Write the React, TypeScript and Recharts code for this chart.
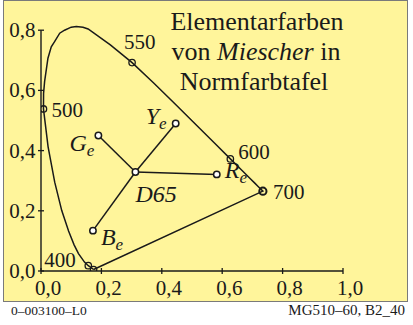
import React from 'react';
import { ScatterChart, Scatter, XAxis, YAxis, ReferenceLine } from 'recharts';

// spectral locus (CIE 1931 x,y), read along the curve from violet end over green to red
const spectralX = [
  0.1741, 0.1566, 0.144, 0.1241, 0.1096, 0.0913, 0.0687, 0.0454, 0.0235, 0.0082, 0.0085, 0.012,
  0.023, 0.034, 0.045, 0.062, 0.078, 0.1, 0.117, 0.139, 0.156, 0.2296, 0.3016, 0.3731, 0.4441,
  0.5125, 0.5752, 0.627, 0.6658, 0.6915, 0.7079, 0.719, 0.7347, 0.1741,
];
const spectralY = [
  0.005, 0.0177, 0.0297, 0.0578, 0.0868, 0.1327, 0.2007, 0.295, 0.4127, 0.5384, 0.59, 0.63,
  0.707, 0.745, 0.762, 0.79, 0.8, 0.81, 0.812, 0.81, 0.804, 0.751, 0.6923, 0.6245, 0.5547,
  0.4866, 0.4242, 0.3725, 0.334, 0.3083, 0.292, 0.2809, 0.2653, 0.005,
];

// wavelength marks on the locus
const markLabels = ['', '400', '500', '550', '600', '700'];
const markX = [0.1741, 0.1566, 0.0082, 0.3016, 0.627, 0.7347];
const markY = [0.005, 0.0177, 0.5384, 0.6923, 0.3725, 0.2653];

// elementary colours after Miescher and D65
const primaryNames = ['G', 'Y', 'R', 'B'];
const primaryX = [0.19, 0.446, 0.582, 0.172];
const primaryY = [0.45, 0.49, 0.321, 0.134];
const whiteX = 0.3127;
const whiteY = 0.329;

const xTicks = [0, 0.2, 0.4, 0.6, 0.8, 1.0];
const xTickLabels = ['0,0', '0,2', '0,4', '0,6', '0,8', '1,0'];
const yTicks = [0, 0.2, 0.4, 0.6, 0.8];
const yTickLabels = ['0,0', '0,2', '0,4', '0,6', '0,8'];

const titleLines = ['Elementarfarben', 'von ', 'Miescher', ' in', 'Normfarbtafel'];

const locus = spectralX.map((x, i) => ({ x, y: spectralY[i] }));
const marks = markX.map((x, i) => ({ x, y: markY[i], label: markLabels[i] }));
const white = { x: whiteX, y: whiteY, name: 'D65' };
const primaries = primaryNames.map((name, i) => ({ x: primaryX[i], y: primaryY[i], name }));

const SERIF = '"Liberation Serif", "Times New Roman", serif';
const INK = '#1a1a1a';

const markOffset: Record<string, { dx: number; dy: number }> = {
  '400': { dx: -44, dy: 1 },
  '500': { dx: 8, dy: 8 },
  '550': { dx: -8, dy: -14 },
  '600': { dx: 8, dy: 0 },
  '700': { dx: 10, dy: 8 },
};

const nameOffset: Record<string, { dx: number; dy: number }> = {
  G: { dx: -29, dy: 15 },
  Y: { dx: -30, dy: 0 },
  R: { dx: 8, dy: 4 },
  B: { dx: 8, dy: 14 },
  D65: { dx: 0, dy: 30 },
};

const XTick = (props: any) => {
  const { x, y, index } = props;
  return (
    <g>
      <line x1={x} x2={x} y1={y - 3} y2={y + 3} stroke={INK} strokeWidth={1.3} />
      <text x={x - 6} y={y + 24} fontFamily={SERIF} fontSize={21} fill={INK}>
        {xTickLabels[index]}
      </text>
    </g>
  );
};

const YTick = (props: any) => {
  const { x, y, index } = props;
  return (
    <g>
      <line x1={x - 3} x2={x + 3} y1={y} y2={y} stroke={INK} strokeWidth={1.3} />
      <text x={x - 5.5} y={y + 7} textAnchor="end" fontFamily={SERIF} fontSize={21} fill={INK}>
        {yTickLabels[index]}
      </text>
    </g>
  );
};

const NoDot = () => <g />;

const LocusMark = (props: any) => {
  const { cx, cy, payload } = props;
  const off = markOffset[payload.label];
  const thick = payload.label === '700';
  return (
    <g>
      <circle cx={cx} cy={cy} r={thick ? 3.6 : 3.2} fill="none" stroke={INK} strokeWidth={thick ? 2 : 1.3} />
      {off && (
        <text x={cx + off.dx} y={cy + off.dy} fontFamily={SERIF} fontSize={21} fill={INK}>
          {payload.label}
        </text>
      )}
    </g>
  );
};

const ColourMark = (props: any) => {
  const { cx, cy, payload } = props;
  const off = nameOffset[payload.name];
  const isWhite = payload.name === 'D65';
  return (
    <g>
      <circle cx={cx} cy={cy} r={3.2} fill="#fff" stroke={INK} strokeWidth={1.5} />
      <text x={cx + off.dx} y={cy + off.dy} fontFamily={SERIF} fontStyle="italic" fontSize={24} fill={INK}>
        {isWhite ? (
          payload.name
        ) : (
          <>
            <tspan>{payload.name}</tspan>
            <tspan fontSize={17} dy={5}>e</tspan>
          </>
        )}
      </text>
    </g>
  );
};

export default function App() {
  return (
    <div style={{ position: 'absolute', left: 0, top: 0, width: 413, height: 325 }}>
      <div
        style={{
          position: 'absolute',
          left: 3,
          top: 0,
          width: 405,
          height: 302,
          boxSizing: 'border-box',
          border: '1px solid #7a7a7a',
          background: '#fff59b',
        }}
      />
      <div style={{ position: 'absolute', left: 0, top: 0 }}>
        <ScatterChart width={413} height={325} margin={{ top: 0.1, right: 9.6, bottom: 0, left: 0 }}>
          <XAxis
            type="number"
            dataKey="x"
            domain={[0, 1.2]}
            ticks={xTicks}
            interval={0}
            height={54}
            axisLine={false}
            tickLine={false}
            tickSize={0}
            tickMargin={0}
            tick={<XTick />}
            allowDataOverflow
          />
          <YAxis
            type="number"
            dataKey="y"
            domain={[0, 0.9]}
            ticks={yTicks}
            interval={0}
            width={41}
            axisLine={false}
            tickLine={false}
            tickSize={0}
            tickMargin={0}
            tick={<YTick />}
            allowDataOverflow
          />
          <ReferenceLine segment={[{ x: 0, y: 0 }, { x: 1, y: 0 }]} stroke={INK} strokeWidth={1.4} />
          <ReferenceLine segment={[{ x: 0, y: 0 }, { x: 0, y: 0.8 }]} stroke={INK} strokeWidth={1.4} />
          <Scatter
            data={locus}
            line={{ stroke: INK, strokeWidth: 1.5 }}
            lineType="joint"
            shape={NoDot}
            isAnimationActive={false}
          />
          {primaries.map((p) => (
            <Scatter
              key={p.name}
              data={[white, p]}
              line={{ stroke: INK, strokeWidth: 1.5 }}
              lineType="joint"
              shape={NoDot}
              isAnimationActive={false}
            />
          ))}
          <Scatter data={marks} shape={LocusMark} isAnimationActive={false} />
          <Scatter data={[...primaries, white]} shape={ColourMark} isAnimationActive={false} />
        </ScatterChart>
      </div>
      <svg width={413} height={325} style={{ position: 'absolute', left: 0, top: 0, pointerEvents: 'none' }}>
        <g fontFamily={SERIF} fill={INK} fontSize={26} textAnchor="middle">
          <text x={257} y={30}>{titleLines[0]}</text>
          <text x={256} y={60}>
            {titleLines[1]}
            <tspan fontStyle="italic">{titleLines[2]}</tspan>
            {titleLines[3]}
          </text>
          <text x={254} y={90}>{titleLines[4]}</text>
        </g>
        <text x={11} y={315} fontFamily={SERIF} fontSize={13.5} fill={INK}>
          0–003100–L0
        </text>
        <text x={405} y={315} textAnchor="end" fontFamily={SERIF} fontSize={15} fill={INK}>
          MG510–60, B2_40
        </text>
      </svg>
    </div>
  );
}
